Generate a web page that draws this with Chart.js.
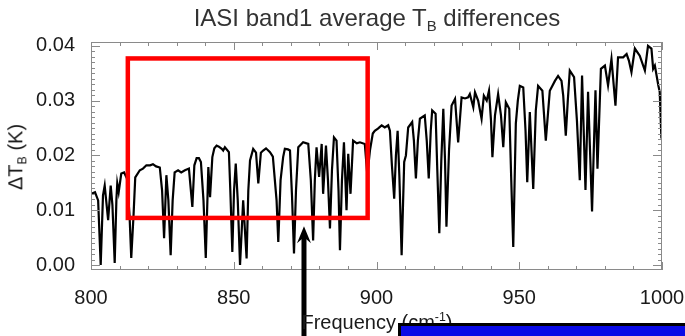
<!DOCTYPE html>
<html>
<head>
<meta charset="utf-8">
<script src="https://cdn.jsdelivr.net/npm/chart.js@4"></script>
<style>
  html, body { margin: 0; padding: 0; background: #fff; }
  #wrap { position: relative; width: 685px; height: 336px; overflow: hidden;
          font-family: "Liberation Sans", Arial, sans-serif; color: #1a1a1a; }
  #chart { position: absolute; left: 0; top: 0; }
  .title { position: absolute; top: 6px; left: 377px; transform: translateX(-50%);
           font-size: 24px; line-height: 24px; white-space: nowrap; color: #333; }
  .xtitle { position: absolute; top: 307px; left: 377px; transform: translateX(-50%);
            font-size: 20px; line-height: 20px; white-space: nowrap; }
  .ytitle { position: absolute; left: 19px; top: 157px; transform: translate(-50%, -50%) rotate(-90deg);
            font-size: 20px; line-height: 20px; white-space: nowrap; }
  sub { font-size: 62%; vertical-align: -0.35em; }
  sup { font-size: 62%; vertical-align: 0.65em; }
  #bluebox { position: absolute; left: 398px; top: 323px; width: 300px; height: 30px;
             background: #0a0ae6; border: 3px solid #000; box-sizing: border-box; }
</style>
</head>
<body>
<div id="wrap">
  <canvas id="chart" width="685" height="336"></canvas>
  <div class="title">IASI band1 average T<sub>B</sub> differences</div>
  <div class="ytitle">&Delta;T<sub>B</sub> (K)</div>
  <div class="xtitle">Frequency (cm<sup>-1</sup>)</div>
  <div id="bluebox"></div>
</div>
<script>
  // Spectrum (frequency in cm-1, dTB in K)
  const freq = [
    800.0, 801.4, 802.5, 803.4, 804.2, 804.8, 806.0, 806.9, 807.5, 808.3,
    808.9, 809.2, 809.7, 810.6, 811.6, 812.6, 813.5, 814.1, 814.9, 815.5,
    817.1, 818.2, 819.4, 820.7, 821.7, 822.8, 824.1, 824.9, 825.6, 826.4,
    827.1, 827.9, 828.6, 829.3, 830.5, 831.6, 832.9, 834.3, 835.5, 836.2,
    837.0, 837.8, 838.5, 839.4, 840.2, 841.1, 841.7, 842.5, 843.2, 844.0,
    844.8, 845.8, 846.3, 846.9, 848.3, 848.8, 849.5, 850.1, 850.7, 851.4,
    852.2, 853.3, 854.5, 855.1, 855.7, 856.8, 857.8, 858.6, 859.5, 860.3,
    861.3, 862.7, 863.7, 865.0, 865.6, 866.4, 867.3, 867.9, 869.0, 869.7,
    870.4, 871.1, 871.8, 872.6, 874.3, 876.1, 877.0, 877.8, 878.4, 879.0,
    879.9, 880.8, 881.3, 882.3, 883.0, 883.7, 884.4, 885.1, 886.0, 886.7,
    887.2, 887.9, 888.6, 889.5, 890.1, 890.9, 891.8, 893.1, 894.2, 895.9,
    896.8, 897.7, 898.7, 899.4, 900.5, 901.8, 902.9, 904.1, 904.7, 905.4,
    906.2, 906.8, 907.4, 908.0, 908.8, 909.7, 910.3, 911.1, 912.5, 913.1,
    913.8, 914.5, 915.2, 916.9, 917.6, 918.3, 919.0, 919.5, 920.7, 921.3,
    922.0, 922.7, 923.4, 924.0, 924.5, 925.4, 926.3, 927.5, 928.6, 929.8,
    931.0, 932.1, 932.7, 933.9, 934.5, 935.6, 936.8, 937.6, 938.6, 939.4,
    940.1, 940.6, 941.5, 942.6, 943.6, 944.4, 945.3, 946.5, 947.2, 947.9,
    948.8, 949.5, 950.2, 951.4, 952.2, 952.8, 953.7, 954.9, 955.8, 956.6,
    958.1, 959.3, 960.7, 962.5, 963.6, 964.8, 965.4, 966.3, 967.0, 967.7,
    969.2, 970.2, 971.2, 972.0, 973.2, 974.1, 975.5, 976.7, 977.4, 978.6,
    980.0, 981.1, 982.3, 983.7, 984.6, 986.4, 987.6, 988.4, 989.3, 990.5,
    992.2, 994.0, 995.1, 996.3, 996.9, 997.5, 998.7, 999.2, 999.8, 1000.0
  ];
  const dTb = [
    0.0130, 0.0133, 0.0118, 0.0000, 0.0127, 0.0145, 0.0082, 0.0145, 0.0110, 0.0004,
    0.0120, 0.0149, 0.0133, 0.0167, 0.0169, 0.0158, 0.0091, 0.0013, 0.0091, 0.0160,
    0.0173, 0.0176, 0.0182, 0.0182, 0.0184, 0.0180, 0.0178, 0.0136, 0.0049, 0.0164,
    0.0118, 0.0018, 0.0118, 0.0169, 0.0173, 0.0169, 0.0173, 0.0176, 0.0106, 0.0182,
    0.0195, 0.0195, 0.0188, 0.0118, 0.0013, 0.0179, 0.0124, 0.0197, 0.0213, 0.0218,
    0.0216, 0.0212, 0.0209, 0.0215, 0.0206, 0.0136, 0.0024, 0.0136, 0.0185, 0.0118,
    0.0000, 0.0118, 0.0012, 0.0136, 0.0191, 0.0212, 0.0205, 0.0149, 0.0205, 0.0209,
    0.0213, 0.0206, 0.0198, 0.0118, 0.0042, 0.0155, 0.0197, 0.0212, 0.0211, 0.0209,
    0.0127, 0.0021, 0.0136, 0.0215, 0.0224, 0.0221, 0.0155, 0.0045, 0.0155, 0.0215,
    0.0161, 0.0221, 0.0130, 0.0218, 0.0155, 0.0067, 0.0173, 0.0233, 0.0227, 0.0136,
    0.0027, 0.0155, 0.0224, 0.0100, 0.0203, 0.0130, 0.0227, 0.0222, 0.0224, 0.0221,
    0.0164, 0.0209, 0.0240, 0.0245, 0.0249, 0.0255, 0.0251, 0.0255, 0.0245, 0.0182,
    0.0121, 0.0200, 0.0245, 0.0164, 0.0018, 0.0188, 0.0200, 0.0251, 0.0261, 0.0227,
    0.0158, 0.0227, 0.0267, 0.0273, 0.0227, 0.0158, 0.0245, 0.0282, 0.0276, 0.0173,
    0.0058, 0.0191, 0.0285, 0.0191, 0.0070, 0.0209, 0.0291, 0.0303, 0.0224, 0.0306,
    0.0304, 0.0306, 0.0312, 0.0288, 0.0315, 0.0300, 0.0267, 0.0309, 0.0300, 0.0318,
    0.0264, 0.0197, 0.0273, 0.0312, 0.0273, 0.0215, 0.0297, 0.0285, 0.0155, 0.0033,
    0.0258, 0.0300, 0.0327, 0.0324, 0.0245, 0.0151, 0.0279, 0.0139, 0.0282, 0.0327,
    0.0318, 0.0227, 0.0318, 0.0336, 0.0345, 0.0336, 0.0309, 0.0236, 0.0300, 0.0355,
    0.0343, 0.0264, 0.0155, 0.0346, 0.0137, 0.0316, 0.0098, 0.0319, 0.0176, 0.0358,
    0.0364, 0.0328, 0.0376, 0.0291, 0.0379, 0.0379, 0.0385, 0.0373, 0.0352, 0.0395,
    0.0382, 0.0355, 0.0400, 0.0395, 0.0358, 0.0364, 0.0328, 0.0316, 0.0231, 0.0270
  ];

  const xTickValues = [800, 850, 900, 950, 1000];
  const yTickValues = [0.00, 0.01, 0.02, 0.03, 0.04];

  const FONT = '"Liberation Sans", Arial, sans-serif';

  // IDL-style frame with inward ticks on all four sides
  const frameTicks = {
    id: 'frameTicks',
    afterDatasetsDraw(chart) {
      const { ctx, chartArea: a, scales: { x, y } } = chart;
      ctx.save();
      ctx.strokeStyle = '#8a8a8a';
      ctx.lineWidth = 1;
      ctx.strokeRect(a.left + 0.5, a.top + 0.5, a.right - a.left - 1, a.bottom - a.top - 1);
      ctx.beginPath();
      for (let v = 800; v <= 1000; v += 10) {
        const px = Math.round(x.getPixelForValue(v)) + 0.5;
        const len = v % 50 === 0 ? 8 : 4;
        ctx.moveTo(px, a.bottom); ctx.lineTo(px, a.bottom - len);
        ctx.moveTo(px, a.top); ctx.lineTo(px, a.top + len);
      }
      for (let i = 0; i <= 40; i++) {
        const py = Math.round(y.getPixelForValue(i / 1000)) + 0.5;
        const len = i % 10 === 0 ? 9 : 4;
        ctx.moveTo(a.left, py); ctx.lineTo(a.left + len, py);
        ctx.moveTo(a.right, py); ctx.lineTo(a.right - len, py);
      }
      ctx.stroke();
      ctx.restore();
    }
  };

  // red box and arrow drawn over the plot
  const marks = {
    id: 'marks',
    afterDraw(chart) {
      const { ctx, scales: { x, y } } = chart;
      ctx.save();
      const l = x.getPixelForValue(812.9), r = x.getPixelForValue(896.9);
      const t = y.getPixelForValue(0.0377), b = y.getPixelForValue(0.0086);
      ctx.strokeStyle = '#ff0000';
      ctx.lineWidth = 4.5;
      ctx.strokeRect(l, t, r - l, b - t);

      const ax = x.getPixelForValue(874.6);
      const tip = y.getPixelForValue(0.0071);
      ctx.fillStyle = '#000';
      ctx.fillRect(ax - 2.5, tip + 8, 5, chart.height - tip);
      ctx.beginPath();
      ctx.moveTo(ax, tip);
      ctx.lineTo(ax + 7, tip + 17);
      ctx.lineTo(ax, tip + 11);
      ctx.lineTo(ax - 7, tip + 17);
      ctx.closePath();
      ctx.fill();
      ctx.restore();
    }
  };

  new Chart(document.getElementById('chart'), {
    type: 'line',
    data: {
      datasets: [{
        data: freq.map((f, i) => ({ x: f, y: dTb[i] })),
        borderColor: '#000',
        borderWidth: 2.2,
        pointRadius: 0,
        tension: 0,
        fill: false
      }]
    },
    options: {
      responsive: false,
      animation: false,
      layout: { padding: { top: 42, right: 23, left: 0, bottom: 0 } },
      plugins: { legend: { display: false }, tooltip: { enabled: false } },
      scales: {
        x: {
          type: 'linear',
          min: 800,
          max: 1000,
          afterBuildTicks: s => { s.ticks = xTickValues.map(v => ({ value: v })); },
          afterFit: s => { s.height = 66; s.paddingLeft = 0; s.paddingRight = 0; },
          grid: { display: false },
          border: { display: false },
          ticks: {
            autoSkip: false, maxRotation: 0, padding: 8, color: '#1a1a1a',
            font: { family: FONT, size: 20 },
            callback: v => String(v)
          }
        },
        y: {
          min: -0.0009,
          max: 0.0407,
          afterBuildTicks: s => { s.ticks = yTickValues.map(v => ({ value: v })); },
          afterFit: s => { s.width = 91; s.paddingTop = 0; s.paddingBottom = 0; },
          grid: { display: false },
          border: { display: false },
          ticks: {
            padding: 8, color: '#1a1a1a',
            font: { family: FONT, size: 20 },
            callback: v => v.toFixed(2)
          }
        }
      }
    },
    plugins: [frameTicks, marks]
  });
</script>
</body>
</html>
